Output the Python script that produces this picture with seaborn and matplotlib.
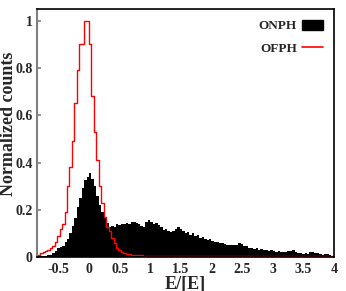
import numpy as np
import pandas as pd
import matplotlib
matplotlib.use("Agg")
import matplotlib.pyplot as plt
import seaborn as sns
from matplotlib.patches import Patch
from matplotlib.lines import Line2D

# histogram bins (width 0.04) from -0.84 to 4.0
bin_edges = np.linspace(-0.84, 4.0, 122)
bin_centers = (bin_edges[:-1] + bin_edges[1:]) / 2

# ONPH normalized counts per bin
onph = [
    0.003, 0.004, 0.005, 0.006, 0.008, 0.010, 0.015, 0.025, 0.040, 0.042,
    0.045, 0.065, 0.075, 0.100, 0.130, 0.165, 0.210, 0.250, 0.290, 0.325,
    0.340, 0.357, 0.330, 0.300, 0.260, 0.220, 0.190, 0.165, 0.145, 0.125,
    0.130, 0.125, 0.140, 0.135, 0.140, 0.138, 0.145, 0.140, 0.148, 0.150,
    0.145, 0.140, 0.132, 0.125, 0.150, 0.155, 0.150, 0.140, 0.145, 0.135,
    0.125, 0.115, 0.120, 0.110, 0.105, 0.110, 0.120, 0.125, 0.118, 0.112,
    0.100, 0.105, 0.095, 0.100, 0.090, 0.092, 0.082, 0.085, 0.078, 0.072,
    0.075, 0.068, 0.065, 0.062, 0.058, 0.060, 0.055, 0.052, 0.052, 0.050,
    0.052, 0.050, 0.058, 0.055, 0.045, 0.048, 0.038, 0.040, 0.035, 0.040,
    0.030, 0.032, 0.028, 0.030, 0.026, 0.028, 0.025, 0.022, 0.024, 0.020,
    0.022, 0.020, 0.024, 0.026, 0.030, 0.022, 0.018, 0.015, 0.012, 0.018,
    0.014, 0.020, 0.022, 0.015, 0.018, 0.012, 0.010, 0.014, 0.012, 0.008,
    0.006,
]

# OFPH normalized counts per bin
ofph = [
    0.010, 0.015, 0.020, 0.025, 0.030, 0.040, 0.045, 0.065, 0.090, 0.120,
    0.140, 0.190, 0.300, 0.380, 0.490, 0.650, 0.790, 0.900, 0.900, 1.000,
    1.000, 0.900, 0.680, 0.530, 0.410, 0.300, 0.230, 0.170, 0.125, 0.110,
    0.080, 0.060, 0.040, 0.030, 0.020, 0.015, 0.013, 0.012, 0.010, 0.010,
    0.009, 0.008, 0.007, 0.006, 0.006, 0.005, 0.005, 0.004, 0.004, 0.004,
    0.004, 0.004, 0.004, 0.004, 0.004, 0.004, 0.004, 0.004, 0.004, 0.004,
    0.003, 0.003, 0.003, 0.003, 0.003, 0.003, 0.003, 0.003, 0.003, 0.003,
    0.003, 0.003, 0.003, 0.003, 0.003, 0.003, 0.003, 0.003, 0.003, 0.003,
    0.002, 0.002, 0.002, 0.002, 0.002, 0.002, 0.002, 0.002, 0.002, 0.002,
    0.002, 0.002, 0.002, 0.002, 0.002, 0.002, 0.002, 0.002, 0.002, 0.002,
    0.002, 0.002, 0.002, 0.002, 0.002, 0.002, 0.002, 0.002, 0.002, 0.002,
    0.002, 0.002, 0.002, 0.002, 0.002, 0.002, 0.002, 0.002, 0.002, 0.002,
    0.002,
]

x_ticks = [-0.5, 0, 0.5, 1, 1.5, 2, 2.5, 3, 3.5, 4]
y_ticks = [0, 0.2, 0.4, 0.6, 0.8, 1]

df = pd.DataFrame({'E': bin_centers, 'onph': onph, 'ofph': ofph})

sns.set_style("ticks")
plt.rcParams['font.family'] = ['Liberation Serif', 'DejaVu Serif']
plt.rcParams['font.weight'] = 'bold'
plt.rcParams['axes.unicode_minus'] = False

fig = plt.figure(figsize=(3.46, 2.91), dpi=100)
ax = fig.add_axes([0.107, 0.117, 0.858, 0.852])

sns.histplot(data=df, x='E', weights='onph', bins=list(bin_edges), element="bars",
             fill=True, color="black", alpha=1, linewidth=0, ax=ax)
sns.histplot(data=df, x='E', weights='ofph', bins=list(bin_edges), element="step",
             fill=False, color="red", linewidth=1.0, ax=ax)

ax.set_xlim(-0.85, 4.0)
ax.set_ylim(0, 1.05)
ax.set_xticks(x_ticks)
ax.set_yticks(y_ticks)
ax.set_xticklabels([f"{v:g}" for v in x_ticks], fontsize=10, fontweight='bold')
ax.set_yticklabels([f"{v:g}" for v in y_ticks], fontsize=10, fontweight='bold')
ax.tick_params(axis='y', direction='in', length=3, width=1.2, color='#808080', pad=3)
ax.tick_params(axis='x', length=0, pad=4)

ax.set_xlabel("E/[E]", fontsize=13, fontweight='bold')
ax.set_ylabel("Normalized counts", fontsize=13, fontweight='bold')
ax.xaxis.set_label_coords(0.5, -0.078)
ax.yaxis.set_label_coords(-0.096, 0.536)
ax.yaxis.label.set_va('center')

for side in ['top', 'right', 'bottom']:
    ax.spines[side].set_color('black')
    ax.spines[side].set_linewidth(1.2)
ax.spines['left'].set_color('#808080')
ax.spines['left'].set_linewidth(1.5)

handles = [Patch(facecolor='black', edgecolor='black'),
           Line2D([], [], color='red', linewidth=1.2)]
ax.legend(handles, ["ONPH", "OFPH"], loc='upper right', frameon=False,
          markerfirst=False, prop={'family': 'Liberation Serif', 'weight': 'bold', 'size': 9.5},
          handlelength=1.6, handleheight=0.8, handletextpad=0.4,
          labelspacing=0.75, borderaxespad=0.4)

plt.savefig("out.png", dpi=100)
